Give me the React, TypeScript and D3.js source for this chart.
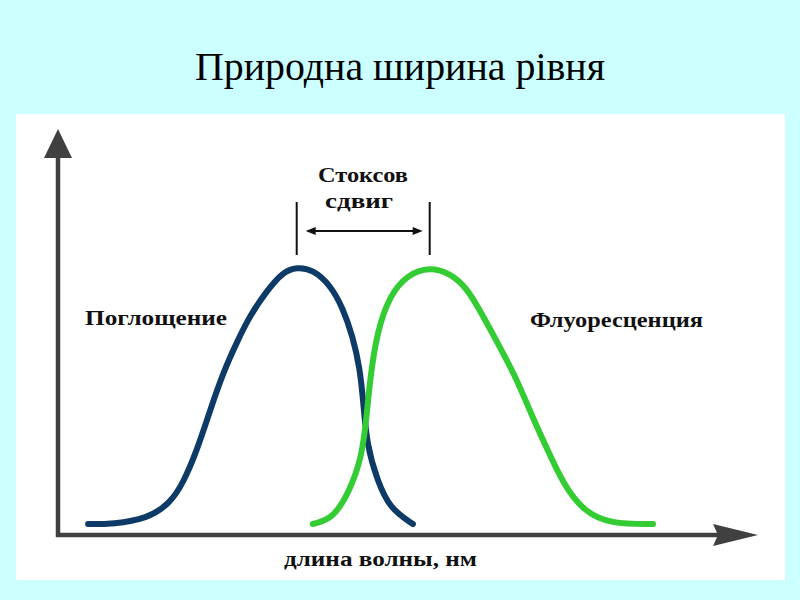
import React from "react";
import * as d3 from "d3";

const titleText = "Природна ширина рівня";
const absorptionLabel = "Поглощение";
const fluorescenceLabel = "Флуоресценция";
const axisLabel = "длина волны, нм";
const stokesLabel = ["Стоксов", "сдвиг"];

// wavelength (arbitrary units) and normalised intensity
const absX = [4.3, 7.9, 12.7, 16.0, 17.9, 19.9, 21.7, 23.6, 25.6, 27.4, 29.9, 32.1, 34.1, 36.4, 38.9, 40.7, 42.1, 43.1, 43.6, 44.1, 45.6, 47.4, 50.7];
const absY = [0, 0, 0.02, 0.08, 0.16, 0.29, 0.44, 0.59, 0.71, 0.81, 0.91, 0.98, 1.0, 0.99, 0.93, 0.84, 0.73, 0.61, 0.48, 0.31, 0.17, 0.06, 0.0];
const fluX = [36.4, 39.3, 41.7, 43.4, 44.1, 44.6, 45.6, 47.4, 49.9, 53.1, 56.0, 58.4, 60.7, 63.1, 65.6, 67.4, 69.9, 72.1, 75.0, 78.9, 85.0];
const fluY = [0, 0.02, 0.13, 0.26, 0.42, 0.57, 0.75, 0.89, 0.97, 1.0, 0.975, 0.92, 0.81, 0.69, 0.56, 0.44, 0.29, 0.16, 0.05, 0.0, 0.0];

export default function App() {
  const x = d3.scaleLinear().domain([0, 100]).range([58, 758]);
  const y = d3.scaleLinear().domain([0, 1]).range([524, 267]);

  const line = d3
    .line<[number, number]>()
    .x((d) => x(d[0]))
    .y((d) => y(d[1]))
    .curve(d3.curveBasis);

  const absPts = absX.map((v, i) => [v, absY[i]] as [number, number]);
  const fluPts = fluX.map((v, i) => [v, fluY[i]] as [number, number]);

  const absPeak = absX[d3.maxIndex(absY)];
  const fluPeak = fluX[d3.maxIndex(fluY)];
  const px1 = x(absPeak);
  const px2 = x(fluPeak);

  const axisColor = "#404040";
  const font = "'Liberation Serif', 'Times New Roman', serif";
  const arrowY = 231;
  const ah = 10;

  return (
    <svg
      width={800}
      height={600}
      style={{ position: "absolute", left: 0, top: 0, display: "block" }}
    >
      <rect x={0} y={0} width={800} height={600} fill="#ccffff" />
      <rect x={16} y={114} width={769} height={466} fill="#ffffff" />

      <text
        x={400}
        y={80}
        textAnchor="middle"
        fontFamily={font}
        fontSize={41}
        textLength={410}
        lengthAdjust="spacingAndGlyphs"
        fill="#000"
      >
        {titleText}
      </text>

      {/* axes */}
      <line x1={x(0)} y1={537} x2={x(0)} y2={152} stroke={axisColor} strokeWidth={4.5} />
      <polygon
        points={`${x(0)},129 ${x(0) - 14},158 ${x(0) + 14},158`}
        fill={axisColor}
      />
      <line x1={x(0) - 2} y1={535} x2={718} y2={535} stroke={axisColor} strokeWidth={4.5} />
      <polygon points={`${x(100)},535 713,524 718,535 713,546`} fill={axisColor} />

      {/* curves */}
      <path
        d={line(absPts) || ""}
        fill="none"
        stroke="#0d3a66"
        strokeWidth={6}
        strokeLinecap="round"
        strokeLinejoin="round"
      />
      <path
        d={line(fluPts) || ""}
        fill="none"
        stroke="#33cc33"
        strokeWidth={6}
        strokeLinecap="round"
        strokeLinejoin="round"
      />

      {/* Stokes shift marker */}
      <line x1={px1} y1={202} x2={px1} y2={255} stroke="#111" strokeWidth={2} />
      <line x1={px2} y1={202} x2={px2} y2={255} stroke="#111" strokeWidth={2} />
      <line x1={px1 + 12} y1={arrowY} x2={px2 - 10} y2={arrowY} stroke="#111" strokeWidth={2} />
      <polygon
        points={`${px1 + 9},${arrowY} ${px1 + 9 + ah},${arrowY - 4} ${px1 + 9 + ah},${arrowY + 4}`}
        fill="#111"
      />
      <polygon
        points={`${px2 - 7},${arrowY} ${px2 - 7 - ah},${arrowY - 4} ${px2 - 7 - ah},${arrowY + 4}`}
        fill="#111"
      />

      <text
        x={318}
        y={182}
        fontFamily={font}
        fontWeight="bold"
        fontSize={21}
        textLength={90}
        lengthAdjust="spacingAndGlyphs"
        fill="#111"
      >
        {stokesLabel[0]}
      </text>
      <text
        x={325}
        y={208}
        fontFamily={font}
        fontWeight="bold"
        fontSize={21}
        textLength={68}
        lengthAdjust="spacingAndGlyphs"
        fill="#111"
      >
        {stokesLabel[1]}
      </text>

      <text
        x={85}
        y={325}
        fontFamily={font}
        fontWeight="bold"
        fontSize={20}
        textLength={142}
        lengthAdjust="spacingAndGlyphs"
        fill="#111"
      >
        {absorptionLabel}
      </text>
      <text
        x={530}
        y={327}
        fontFamily={font}
        fontWeight="bold"
        fontSize={20}
        textLength={173}
        lengthAdjust="spacingAndGlyphs"
        fill="#111"
      >
        {fluorescenceLabel}
      </text>
      <text
        x={284}
        y={566}
        fontFamily={font}
        fontWeight="bold"
        fontSize={20}
        textLength={193}
        lengthAdjust="spacingAndGlyphs"
        fill="#111"
      >
        {axisLabel}
      </text>
    </svg>
  );
}
